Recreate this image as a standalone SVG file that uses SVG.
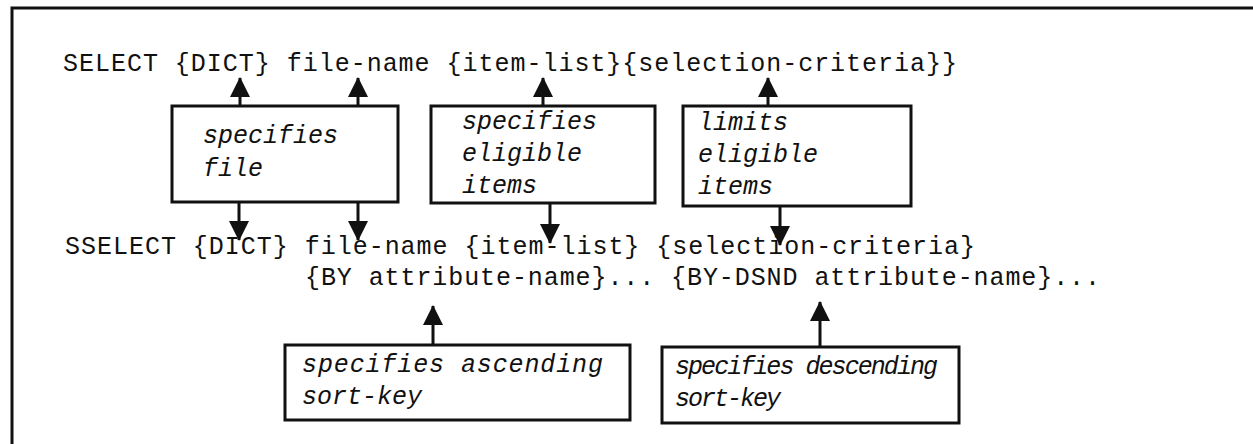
<svg xmlns="http://www.w3.org/2000/svg" width="1253" height="444" viewBox="0 0 1253 444">
<defs>
<style>
.code{font-family:"Liberation Mono","Courier New",monospace;font-size:25px;fill:#111;}
.note{font-family:"Liberation Mono","Courier New",monospace;font-style:italic;font-size:25px;fill:#111;}
.box{fill:#fff;stroke:#111;stroke-width:3;}
.conn{stroke:#111;stroke-width:3;fill:none;}
.frame{stroke:#111;stroke-width:3;fill:none;}
</style>
<marker id="ah" viewBox="0 0 20 20" markerWidth="20" markerHeight="20" refX="19" refY="10" orient="auto" markerUnits="userSpaceOnUse">
<path d="M0,0 L20,10 L0,20 z" fill="#111"/>
</marker>
</defs>
<rect width="1253" height="444" fill="#fff"/>
<path class="frame" d="M12,444 L12,8 L1253,8"/>

<g id="syntax">
<text class="code" x="63" y="71" textLength="894" lengthAdjust="spacing">SELECT {DICT} file-name {item-list}{selection-criteria}}</text>
<text class="code" x="65" y="254" textLength="910" lengthAdjust="spacing">SSELECT {DICT} file-name {item-list} {selection-criteria}</text>
<text class="code" x="305" y="285" textLength="795" lengthAdjust="spacing">{BY attribute-name}... {BY-DSND attribute-name}...</text>
</g>

<g id="node-specifies-file">
<rect class="box" x="172" y="106" width="226" height="96"/>
<text class="note" x="203" y="143">specifies</text>
<text class="note" x="203" y="176">file</text>
</g>

<g id="node-eligible-items">
<rect class="box" x="431" y="106" width="224" height="97"/>
<text class="note" x="462" y="129">specifies</text>
<text class="note" x="462" y="161">eligible</text>
<text class="note" x="462" y="193">items</text>
</g>

<g id="node-limits-items">
<rect class="box" x="683" y="106" width="228" height="100"/>
<text class="note" x="698" y="130">limits</text>
<text class="note" x="698" y="162">eligible</text>
<text class="note" x="698" y="194">items</text>
</g>

<g id="node-ascending">
<rect class="box" x="285" y="345" width="345" height="75"/>
<text class="note" x="302" y="372" textLength="301" lengthAdjust="spacing">specifies ascending</text>
<text class="note" x="302" y="404">sort-key</text>
</g>

<g id="node-descending">
<rect class="box" x="662" y="347" width="297" height="76"/>
<text class="note" x="675" y="374" textLength="263" lengthAdjust="spacing">specifies descending</text>
<text class="note" x="675" y="406" textLength="106" lengthAdjust="spacing">sort-key</text>
</g>

<g id="connectors">
<line class="conn" x1="240" y1="106" x2="240" y2="78" marker-end="url(#ah)"/>
<line class="conn" x1="358" y1="106" x2="358" y2="78" marker-end="url(#ah)"/>
<line class="conn" x1="543" y1="106" x2="543" y2="78" marker-end="url(#ah)"/>
<line class="conn" x1="768" y1="106" x2="768" y2="78" marker-end="url(#ah)"/>
<line class="conn" x1="239" y1="202" x2="239" y2="240" marker-end="url(#ah)"/>
<line class="conn" x1="358" y1="202" x2="358" y2="240" marker-end="url(#ah)"/>
<line class="conn" x1="550" y1="203" x2="550" y2="243" marker-end="url(#ah)"/>
<line class="conn" x1="780" y1="206" x2="780" y2="245" marker-end="url(#ah)"/>
<line class="conn" x1="433" y1="345" x2="433" y2="306" marker-end="url(#ah)"/>
<line class="conn" x1="820" y1="347" x2="820" y2="302" marker-end="url(#ah)"/>
</g>
</svg>
